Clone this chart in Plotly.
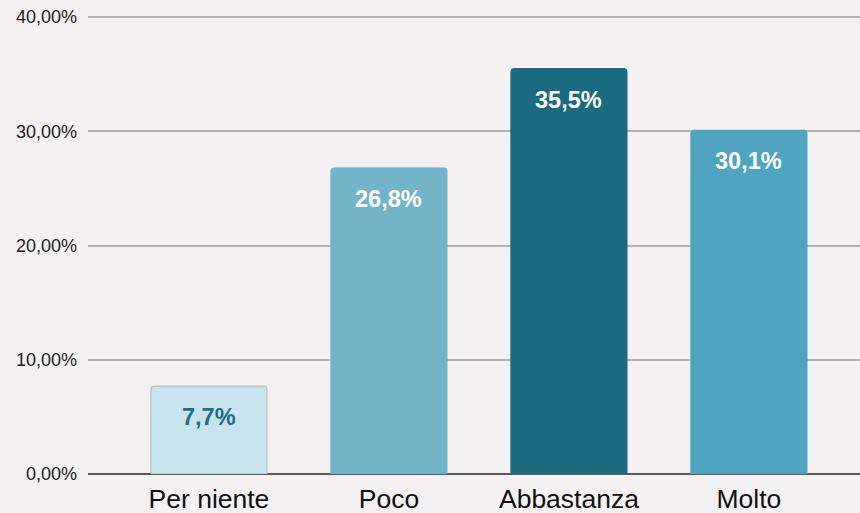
import plotly.graph_objects as go

categories = ["Per niente", "Poco", "Abbastanza", "Molto"]
values = [0.077, 0.268, 0.355, 0.301]
labels = ["7,7%", "26,8%", "35,5%", "30,1%"]
bar_colors = ["#c7e4ec", "#72b4c8", "#1b6b80", "#4fa4bf"]
label_colors = ["#1d6f85", "#ffffff", "#ffffff", "#ffffff"]
line_colors = ["#b5b8ba", "#72b4c8", "#1b6b80", "#4fa4bf"]
ytick_vals = [0, 0.1, 0.2, 0.3, 0.4]
ytick_text = ["0,00%", "10,00%", "20,00%", "30,00%", "40,00%"]

fig = go.Figure()
fig.add_trace(go.Bar(
    x=list(range(len(categories))),
    y=values,
    width=0.645,
    marker=dict(color=bar_colors, line=dict(color=line_colors, width=1), cornerradius=3),
    hoverinfo="skip",
))

for i, (v, t, c) in enumerate(zip(values, labels, label_colors)):
    fig.add_annotation(
        x=i, y=v, text=f"<b>{t}</b>", showarrow=False,
        yanchor="middle", yshift=-31,
        font=dict(family="Liberation Sans, Arial, sans-serif", size=23.5, color=c),
    )

fig.update_layout(
    width=860, height=513,
    margin=dict(l=88, r=0, t=16, b=39),
    paper_bgcolor="#f3f1f2",
    plot_bgcolor="#f3f1f2",
    showlegend=False,
    font=dict(family="Liberation Sans, Arial, sans-serif", color="#222222"),
    xaxis=dict(
        range=[-0.672, 3.617],
        tickvals=list(range(len(categories))),
        ticktext=categories,
        tickfont=dict(size=26.5, color="#111111"),
        showgrid=False, zeroline=False, showline=False,
        ticks="", ticklabelstandoff=6,
    ),
    yaxis=dict(
        range=[0, 0.401],
        tickvals=ytick_vals,
        ticktext=ytick_text,
        tickfont=dict(size=18, color="#222222"),
        showgrid=True, gridcolor="#b3b3b3", gridwidth=1.5,
        zeroline=True, zerolinecolor="#5a5a5a", zerolinewidth=2,
        showline=False, ticks="", ticklabelstandoff=10,
    ),
)

fig.write_html(
    "out.html",
    config={"displayModeBar": False},
    post_script="document.body.style.margin='0';document.body.style.background='#f3f1f2';",
)
